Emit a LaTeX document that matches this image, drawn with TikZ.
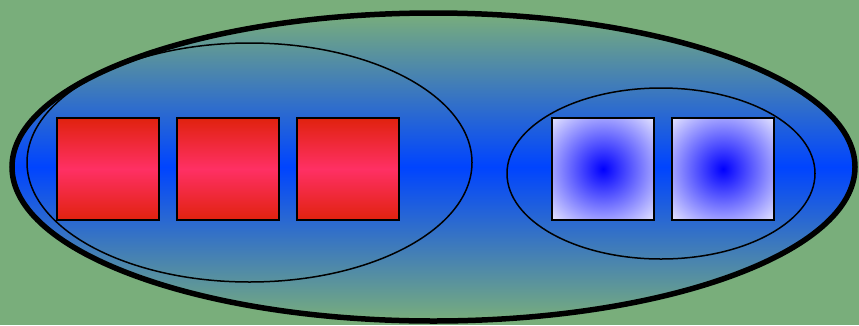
\documentclass[tikz,border=0pt]{standalone}
\usetikzlibrary{shapes.geometric}
\definecolor{bggreen}{RGB}{121,174,123}
\definecolor{midblue}{RGB}{0,68,255}
\definecolor{redtop}{RGB}{224,34,14}
\definecolor{redmid}{RGB}{255,48,100}
\definecolor{lav}{RGB}{228,228,255}
\pgfdeclareradialshading{squarerad}{\pgfpoint{0bp}{0bp}}{color(0bp)=(blue); color(35.4bp)=(lav); color(50bp)=(lav)}
\tikzset{
  bigell/.style={ellipse, draw=black, line width=5.5pt, inner sep=0pt,
    top color=bggreen, bottom color=bggreen, middle color=midblue},
  innerell/.style={ellipse, draw=black, line width=1.5pt, inner sep=0pt},
  redsq/.style={rectangle, draw=black, line width=1.3pt, inner sep=0pt,
    minimum width=102pt, minimum height=102pt,
    top color=redtop, bottom color=redtop, middle color=redmid},
  bluesq/.style={rectangle, draw=black, line width=1.3pt, inner sep=0pt,
    minimum width=102pt, minimum height=102pt, shading=squarerad}
}
\begin{document}
\begin{tikzpicture}[x=1pt,y=-1pt]
\fill[bggreen] (0,0) rectangle (859,325);
\useasboundingbox (0,0) rectangle (859,325);
\node[bigell, minimum width=843pt, minimum height=308pt] (big) at (433.5,167) {};
\node[innerell, minimum width=445pt, minimum height=239pt] (left) at (249.5,162.5) {};
\node[innerell, minimum width=308pt, minimum height=171pt] (right) at (661,173.5) {};
\node[redsq] (r1) at (108,169) {};
\node[redsq] (r2) at (228,169) {};
\node[redsq] (r3) at (348,169) {};
\node[bluesq] (b1) at (603,169) {};
\node[bluesq] (b2) at (723,169) {};
\end{tikzpicture}
\end{document}
